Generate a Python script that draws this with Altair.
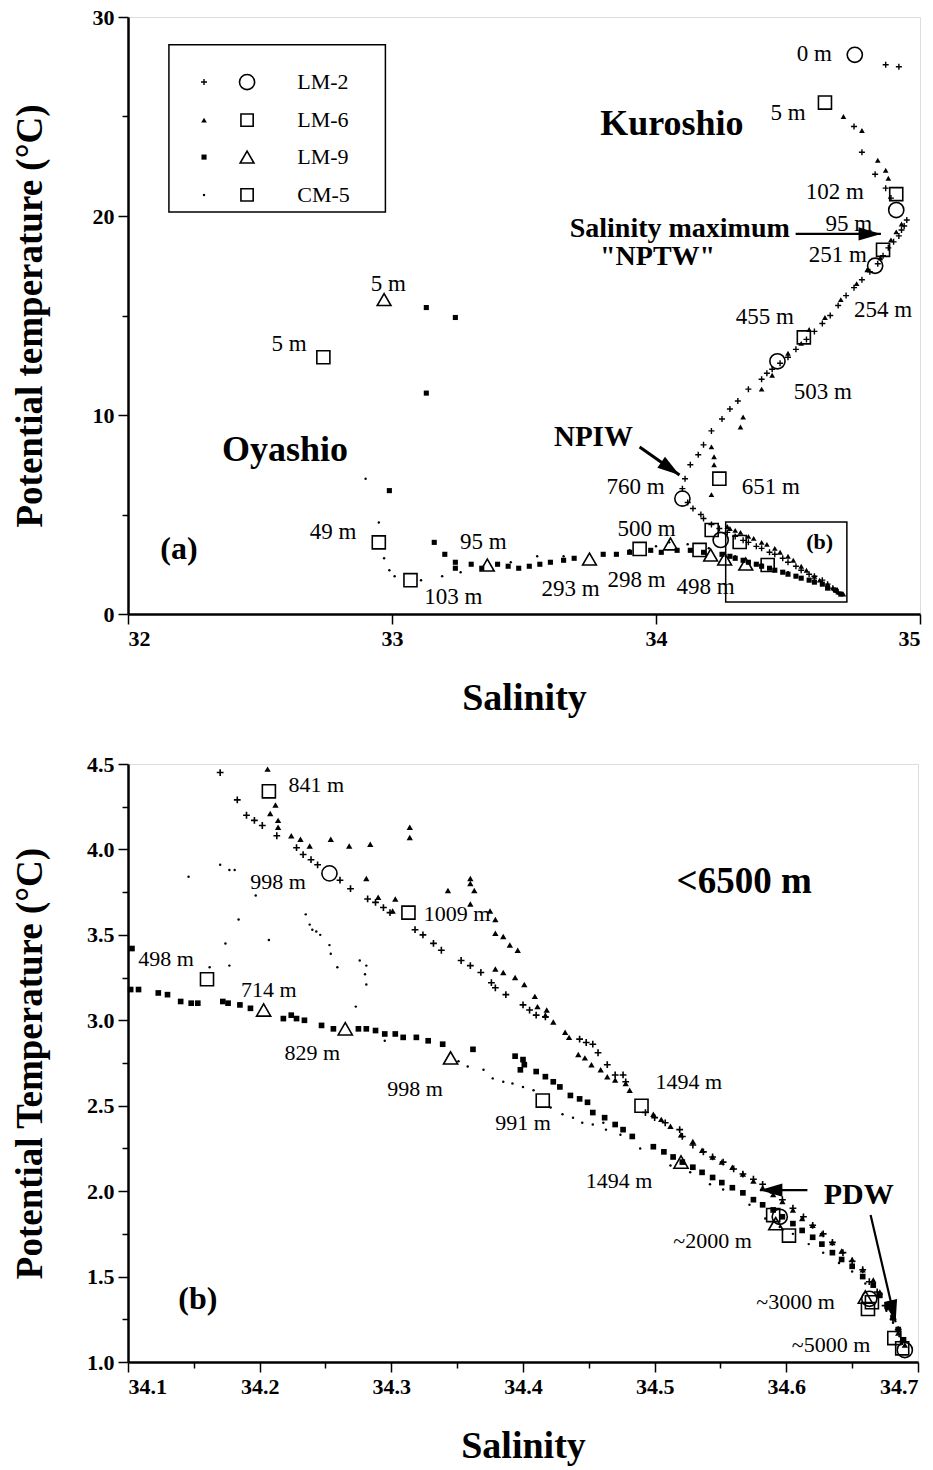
import altair as alt
import pandas as pd

SERIF = "Liberation Serif"

# ---------------- panel (a): full water column ----------------
# LM-2 profile (plus symbols)
a_lm2_sal = [34.87, 34.92, 34.75, 34.78, 34.83, 34.87, 34.89, 34.95, 34.94, 34.93, 34.92, 34.90,
             34.88, 34.86, 34.84, 34.81, 34.78, 34.75, 34.72, 34.69, 34.66, 34.63, 34.60, 34.57,
             34.53, 34.50, 34.47, 34.44, 34.42, 34.40, 34.35, 34.31, 34.28, 34.25, 34.21, 34.18,
             34.16, 34.13, 34.11, 34.10, 34.12, 34.14, 34.17, 34.18, 34.21, 34.24, 34.27, 34.30,
             34.33, 34.35, 34.38, 34.40, 34.43, 34.45, 34.48, 34.50, 34.53, 34.55, 34.58, 34.60,
             34.63, 34.65, 34.67, 34.69]
a_lm2_tem = [27.6, 27.5, 24.5, 23.2, 22.1, 21.4, 20.9, 19.8, 19.5, 19.3, 19.0, 18.7,
             18.4, 18.0, 17.6, 17.2, 16.8, 16.4, 16.0, 15.5, 15.0, 14.6, 14.2, 13.8,
             13.3, 12.9, 12.6, 12.3, 12.1, 11.8, 11.3, 10.7, 10.3, 9.8, 9.2, 8.5,
             8.0, 7.5, 6.8, 6.3, 5.6, 5.3, 5.0, 4.8, 4.5, 4.3, 4.1, 3.9,
             3.7, 3.6, 3.4, 3.3, 3.1, 3.0, 2.8, 2.6, 2.4, 2.2, 2.0, 1.9,
             1.7, 1.5, 1.3, 1.1]

# LM-6 profile (small filled triangles)
a_lm6_sal = [34.71, 34.78, 34.84, 34.87, 34.88, 34.93, 34.91, 34.89, 34.85, 34.80, 34.76, 34.70,
             34.64, 34.58, 34.55, 34.50, 34.44, 34.40, 34.33, 34.32, 34.21, 34.22, 34.22, 34.21,
             34.27, 34.28, 34.30, 34.32, 34.35, 34.37, 34.40, 34.42, 34.45, 34.47, 34.50, 34.52,
             34.55, 34.57, 34.60, 34.62, 34.65, 34.67, 34.69, 34.71]
a_lm6_tem = [25.0, 24.3, 22.8, 22.3, 21.9, 19.6, 19.2, 18.8, 17.9, 17.3, 16.6, 15.8,
             14.9, 14.3, 13.6, 13.1, 12.0, 11.3, 9.9, 9.4, 8.4, 7.9, 7.5, 6.0,
             4.4, 4.3, 4.2, 4.1, 3.9, 3.8, 3.6, 3.5, 3.3, 3.1, 2.9, 2.7,
             2.4, 2.2, 1.9, 1.7, 1.5, 1.3, 1.1, 1.0]

# LM-9 profile (small filled squares)
a_lm9_sal = [33.13, 33.24, 33.13, 32.99, 33.16, 33.20, 33.24, 33.24, 33.30, 33.34, 33.40, 33.44,
             33.48, 33.52, 33.56, 33.60, 33.65, 33.69, 33.80, 33.85, 33.90, 33.98, 34.02, 34.08,
             34.13, 34.18, 34.25, 34.28, 34.30, 34.33, 34.35, 34.38, 34.40, 34.43, 34.45, 34.48,
             34.50, 34.53, 34.55, 34.58, 34.60, 34.63, 34.65, 34.68, 34.70]
a_lm9_tem = [15.4, 14.9, 11.1, 6.2, 3.6, 3.0, 2.6, 2.3, 2.5, 2.3, 2.5, 2.4,
             2.3, 2.4, 2.5, 2.6, 2.7, 2.8, 3.0, 3.0, 3.1, 3.2, 3.1, 3.2,
             3.2, 3.1, 3.0, 2.9, 2.8, 2.7, 2.6, 2.5, 2.4, 2.3, 2.2, 2.1,
             2.0, 1.9, 1.8, 1.7, 1.6, 1.5, 1.3, 1.2, 1.0]

# CM-5 profile (small dots)
a_cm5_sal = [32.90, 32.95, 32.97, 32.99, 33.01, 33.11, 33.19, 33.26, 33.45, 33.55, 33.65, 33.80,
             33.90, 34.00, 34.05, 34.12, 34.20, 34.30, 34.40, 34.50, 34.60, 34.68]
a_cm5_tem = [6.8, 4.6, 2.8, 2.2, 1.9, 1.7, 1.9, 2.1, 2.6, 2.9, 2.9, 3.0,
             3.2, 3.4, 3.6, 3.5, 3.3, 2.9, 2.5, 2.1, 1.7, 1.1]

# Large open symbols at labelled depths
a_circ_sal = [34.753, 34.91, 34.83, 34.46, 34.10, 34.245]
a_circ_tem = [28.1, 20.3, 17.5, 12.7, 5.8, 3.72]
a_sq_sal = [34.64, 34.91, 34.86, 34.56, 34.24, 34.211, 34.317,
            32.74, 32.95, 33.07, 33.938, 34.165, 34.423]
a_sq_tem = [25.7, 21.1, 18.3, 13.9, 6.8, 4.22, 3.62,
            12.9, 3.6, 1.7, 3.27, 3.22, 2.46]
a_tri_sal = [32.97, 33.361, 33.748, 34.055, 34.207, 34.26, 34.34]
a_tri_tem = [15.8, 2.46, 2.76, 3.52, 2.96, 2.76, 2.51]

# Depth labels
a_dep_text = ["0 m", "5 m", "102 m", "95 m", "251 m", "254 m", "455 m", "503 m", "760 m",
              "651 m", "500 m", "293 m", "298 m", "498 m", "95 m", "49 m", "103 m", "5 m", "5 m"]
a_dep_sal = [34.60, 34.50, 34.677, 34.73, 34.689, 34.86, 34.412, 34.632, 33.923,
             34.435, 33.964, 33.676, 33.926, 34.188, 33.346, 32.777, 33.232, 32.61, 32.986]
a_dep_tem = [28.14, 25.2, 21.2, 19.6, 18.04, 15.3, 14.92, 11.16, 6.38,
             6.38, 4.27, 1.26, 1.71, 1.36, 3.62, 4.12, 0.85, 13.57, 16.6]

# Bold annotations
a_note_text = ["Kuroshio", "\"NPTW\"", "Oyashio", "NPIW", "(a)"]
a_note_sal = [34.06, 34.006, 32.595, 33.763, 32.193]
a_note_tem = [24.6, 17.94, 8.24, 8.89, 3.27]
a_note_size = [36, 28, 36, 29, 32]

# ---------------- panel (b): deep layer ----------------
b_lm2_sal = [34.170, 34.183, 34.190, 34.196, 34.202, 34.213, 34.228, 34.233, 34.239, 34.244,
             34.261, 34.269, 34.282, 34.288, 34.294, 34.299, 34.318, 34.324, 34.332, 34.338,
             34.353, 34.360, 34.368, 34.376, 34.379, 34.387, 34.400, 34.405, 34.410, 34.417,
             34.443, 34.448, 34.453, 34.457, 34.464, 34.470, 34.476, 34.478, 34.493, 34.500,
             34.508, 34.519, 34.521, 34.537, 34.552, 34.567, 34.582, 34.597, 34.613, 34.628,
             34.643, 34.658, 34.669, 34.681, 34.688,
             34.529, 34.544, 34.560, 34.575, 34.590, 34.605, 34.620, 34.635, 34.650, 34.663,
             34.675, 34.685]
b_lm2_tem = [4.45, 4.29, 4.20, 4.17, 4.14, 4.08, 4.01, 3.97, 3.94, 3.91,
             3.82, 3.77, 3.71, 3.69, 3.66, 3.63, 3.53, 3.50, 3.45, 3.41,
             3.35, 3.32, 3.28, 3.22, 3.19, 3.15, 3.09, 3.06, 3.03, 3.02,
             2.89, 2.87, 2.86, 2.81, 2.74, 2.68, 2.68, 2.64, 2.46, 2.43,
             2.40, 2.36, 2.32, 2.23, 2.17, 2.10, 2.04, 1.95, 1.85, 1.75,
             1.64, 1.54, 1.41, 1.25, 1.12,
             2.27, 2.20, 2.13, 2.07, 1.99, 1.90, 1.80, 1.70, 1.59, 1.47,
             1.33, 1.19]

b_lm6_sal = [34.206, 34.212, 34.208, 34.214, 34.214, 34.224, 34.231, 34.238, 34.254, 34.268,
             34.284, 34.314, 34.314, 34.281, 34.290, 34.303, 34.301, 34.343, 34.360, 34.360,
             34.363, 34.360, 34.375, 34.379, 34.379, 34.385, 34.390, 34.396, 34.379, 34.385,
             34.394, 34.401, 34.409, 34.411, 34.418, 34.417, 34.423, 34.432, 34.435, 34.442,
             34.447, 34.452, 34.459, 34.464, 34.470, 34.478, 34.481, 34.499, 34.512, 34.529,
             34.544, 34.559, 34.575, 34.590, 34.605, 34.620, 34.635, 34.650, 34.666, 34.677,
             34.685,
             34.505, 34.520, 34.536, 34.551, 34.567, 34.582, 34.597, 34.612, 34.627, 34.642,
             34.658, 34.671, 34.681, 34.690]
b_lm6_tem = [4.47, 4.26, 4.21, 4.17, 4.13, 4.08, 4.06, 4.02, 4.06, 4.02,
             4.03, 4.13, 4.07, 3.83, 3.72, 3.71, 3.64, 3.76, 3.83, 3.80,
             3.76, 3.68, 3.64, 3.59, 3.51, 3.49, 3.44, 3.41, 3.30, 3.28,
             3.25, 3.21, 3.14, 3.08, 3.06, 3.03, 2.99, 2.93, 2.90, 2.80,
             2.78, 2.74, 2.71, 2.67, 2.65, 2.63, 2.59, 2.45, 2.38, 2.29,
             2.20, 2.14, 2.06, 1.98, 1.89, 1.80, 1.70, 1.60, 1.48, 1.34,
             1.17,
             2.42, 2.33, 2.24, 2.17, 2.10, 2.02, 1.94, 1.84, 1.75, 1.65,
             1.54, 1.41, 1.26, 1.10]

b_lm9_sal = [34.103, 34.102, 34.108, 34.123, 34.130, 34.140, 34.148, 34.153, 34.172, 34.176,
             34.185, 34.193, 34.218, 34.224, 34.228, 34.234, 34.247, 34.256, 34.275, 34.281,
             34.288, 34.295, 34.303, 34.309, 34.319, 34.328, 34.339, 34.362, 34.394, 34.400,
             34.401, 34.398, 34.410, 34.417, 34.423, 34.428, 34.436, 34.443, 34.449, 34.453,
             34.462, 34.470, 34.476, 34.483, 34.499, 34.514, 34.529, 34.544, 34.559, 34.575,
             34.590, 34.605, 34.620, 34.635, 34.650, 34.666, 34.677, 34.685,
             34.507, 34.521, 34.536, 34.551, 34.567, 34.582, 34.597, 34.612, 34.627, 34.642,
             34.658, 34.671, 34.681, 34.689]
b_lm9_tem = [3.42, 3.18, 3.18, 3.16, 3.15, 3.11, 3.10, 3.10, 3.11, 3.10,
             3.09, 3.07, 3.01, 3.03, 3.01, 3.00, 2.97, 2.95, 2.95, 2.95,
             2.94, 2.92, 2.92, 2.90, 2.90, 2.88, 2.86, 2.83, 2.79, 2.77,
             2.74, 2.71, 2.70, 2.67, 2.64, 2.61, 2.56, 2.54, 2.52, 2.46,
             2.43, 2.39, 2.36, 2.32, 2.26, 2.20, 2.14, 2.08, 2.02, 1.95,
             1.89, 1.81, 1.73, 1.64, 1.56, 1.45, 1.32, 1.19,
             2.23, 2.17, 2.11, 2.05, 1.99, 1.92, 1.85, 1.77, 1.69, 1.60,
             1.50, 1.39, 1.26, 1.13]

b_cm5_sal = [34.146, 34.170, 34.177, 34.181, 34.197, 34.184, 34.174, 34.177, 34.207, 34.162,
             34.235, 34.238, 34.240, 34.243, 34.246, 34.253, 34.254, 34.259, 34.276, 34.281,
             34.280, 34.281, 34.273, 34.295, 34.351, 34.358, 34.370, 34.377, 34.385, 34.392,
             34.400, 34.408, 34.421, 34.430, 34.438, 34.445, 34.453, 34.461, 34.463, 34.474,
             34.489, 34.512, 34.527, 34.542, 34.552, 34.572, 34.584, 34.605, 34.628, 34.650,
             34.669, 34.681,
             34.595, 34.617, 34.640, 34.660, 34.676, 34.686]
b_cm5_tem = [3.84, 3.91, 3.88, 3.88, 3.73, 3.59, 3.45, 3.32, 3.47, 3.31,
             3.62, 3.56, 3.53, 3.52, 3.50, 3.44, 3.39, 3.31, 3.35, 3.32,
             3.27, 3.21, 3.08, 2.88, 2.76, 2.73, 2.71, 2.66, 2.64, 2.63,
             2.61, 2.59, 2.49, 2.45, 2.43, 2.40, 2.39, 2.40, 2.36, 2.33,
             2.25, 2.15, 2.11, 2.04, 2.01, 1.92, 1.84, 1.75, 1.64, 1.53,
             1.38, 1.23,
             1.79, 1.69, 1.58, 1.46, 1.30, 1.15]

b_circ_sal = [34.253, 34.595, 34.663, 34.690]
b_circ_tem = [3.86, 1.85, 1.37, 1.07]
b_sq_sal = [34.207, 34.313, 34.490, 34.590, 34.665, 34.682,
            34.160, 34.415, 34.602, 34.662, 34.688]
b_sq_tem = [4.34, 3.63, 2.50, 1.86, 1.35, 1.14,
            3.24, 2.53, 1.74, 1.31, 1.08]
b_tri_sal = [34.203, 34.265, 34.345, 34.520, 34.592, 34.660]
b_tri_tem = [3.06, 2.95, 2.78, 2.17, 1.81, 1.38]

b_dep_text = ["841 m", "998 m", "1009 m", "498 m", "714 m", "829 m", "998 m", "991 m",
              "1494 m", "1494 m", "~2000 m", "~3000 m", "~5000 m"]
b_dep_sal = [34.243, 34.214, 34.350, 34.129, 34.207, 34.240, 34.318, 34.400,
             34.526, 34.473, 34.544, 34.607, 34.634]
b_dep_tem = [4.38, 3.81, 3.62, 3.36, 3.18, 2.81, 2.60, 2.40,
             2.64, 2.06, 1.71, 1.35, 1.10]

b_note_text = ["<6500 m", "PDW", "(b)"]
b_note_sal = [34.568, 34.655, 34.153]
b_note_tem = [3.81, 1.98, 1.37]
b_note_size = [37, 30, 32]

legend_names = ["LM-2", "LM-6", "LM-9", "CM-5"]
legend_tem = [26.73, 24.82, 22.96, 21.06]

PLUS = "M-1,0L1,0M0,-1L0,1"
HEAD = "M0,0L-2,-0.6L-2,0.6Z"


def df(s, t, **extra):
    d = {"s": s, "t": t}
    d.update(extra)
    return pd.DataFrame(d)


def axis_common():
    return dict(domainColor="black", domainWidth=2.5, tickColor="black", tickWidth=1.5,
                labelFont=SERIF, labelFontWeight="bold", labelFontSize=22, labelColor="black",
                titleFont=SERIF, titleFontWeight="bold", titleColor="black", grid=False,
                labelPadding=4)


def panel(xdom, ydom, xvals, yvals, xmajor, ymajor, xfmt, yfmt, ytitle, w, h):
    xs = alt.Scale(domain=xdom, nice=False, zero=False)
    ys = alt.Scale(domain=ydom, nice=False, zero=False)
    xa = alt.Axis(values=xvals, format=xfmt, labelExpr=f"{xmajor} ? datum.label : ''",
                  tickSize={"condition": {"test": xmajor, "value": 10}, "value": 6},
                  title="Salinity", titleFontSize=38, titlePadding=30, **axis_common())
    ya = alt.Axis(values=yvals, format=yfmt, labelExpr=f"{ymajor} ? datum.label : ''",
                  tickSize={"condition": {"test": ymajor, "value": 10}, "value": 6},
                  title=ytitle, titleFontSize=37, titleX=-98, titleY=h / 2,
                  titleBaseline="middle", titleAngle=270, **axis_common())
    X = alt.X("s:Q", scale=xs, axis=xa)
    Y = alt.Y("t:Q", scale=ys, axis=ya)
    return X, Y


def small(data, X, Y, shape, size, filled=True, sw=1.0):
    if filled:
        m = alt.Chart(data).mark_point(shape=shape, size=size, filled=True, color="black",
                                       opacity=1)
    else:
        m = alt.Chart(data).mark_point(shape=shape, size=size, filled=False, color="black",
                                       strokeWidth=sw, opacity=1)
    return m.encode(x=X, y=Y)


def big(data, X, Y, shape, size):
    return alt.Chart(data).mark_point(shape=shape, size=size, filled=False, color="black",
                                      strokeWidth=1.6, opacity=1).encode(x=X, y=Y)


def labels(data, X, Y, size, weight="normal"):
    return alt.Chart(data).mark_text(font=SERIF, fontSize=size, fontWeight=weight,
                                     color="black").encode(x=X, y=Y, text="label:N")


def arrow(X, Y, s0, t0, s1, t1, ang, head_size, width=2.2):
    line = alt.Chart(df([s0], [t0], s2=[s1], t2=[t1])).mark_rule(
        color="black", strokeWidth=width).encode(x=X, y=Y, x2="s2:Q", y2="t2:Q")
    head = alt.Chart(df([s1], [t1])).mark_point(
        shape=HEAD, size=head_size, filled=True, color="black", opacity=1,
        angle=ang).encode(x=X, y=Y)
    return [line, head]


# ---------- build panel (a) ----------
AX, AY = panel([32, 35], [0, 30], [32, 32.5, 33, 33.5, 34, 34.5, 35],
               [0, 5, 10, 15, 20, 25, 30],
               "datum.value % 1 == 0", "datum.value % 10 == 0", "d", "d",
               "Potential temperature (°C)", 792, 597)

a_layers = [
    small(df(a_cm5_sal, a_cm5_tem), AX, AY, "circle", 6),
    small(df(a_lm9_sal, a_lm9_tem), AX, AY, "square", 26),
    small(df(a_lm6_sal, a_lm6_tem), AX, AY, "triangle-up", 32),
    small(df(a_lm2_sal, a_lm2_tem), AX, AY, PLUS, 36, filled=False, sw=1.4),
    big(df(a_circ_sal, a_circ_tem), AX, AY, "circle", 230),
    big(df(a_sq_sal, a_sq_tem), AX, AY, "square", 170),
    big(df(a_tri_sal, a_tri_tem), AX, AY, "triangle-up", 190),
    labels(df(a_dep_sal, a_dep_tem, label=a_dep_text), AX, AY, 23),
]
for txt, s, t, sz in zip(a_note_text, a_note_sal, a_note_tem, a_note_size):
    a_layers.append(alt.Chart(df([s], [t], label=[txt])).mark_text(
        font=SERIF, fontSize=sz, fontWeight="bold", color="black").encode(
        x=AX, y=AY, text="label:N"))
a_layers.append(alt.Chart(df([34.507], [19.35], label=["Salinity maximum"])).mark_text(
    font=SERIF, fontSize=28, fontWeight="bold", color="black", align="right").encode(
    x=AX, y=AY, text="label:N"))
a_layers.append(alt.Chart(df([34.62], [3.62], label=["(b)"])).mark_text(
    font=SERIF, fontSize=22, fontWeight="bold", color="black").encode(
    x=AX, y=AY, text="label:N"))
a_layers += arrow(AX, AY, 34.529, 19.1, 34.852, 19.1, 0, 500)
a_layers += arrow(AX, AY, 33.938, 8.39, 34.089, 6.98, 35, 500, width=3)
# outline of the region enlarged in panel (b)
a_layers.append(alt.Chart(df([34.264], [0.6], s2=[34.723], t2=[4.62])).mark_rect(
    fillOpacity=0, stroke="black", strokeWidth=1.5).encode(x=AX, y=AY, x2="s2:Q", y2="t2:Q"))
# station key
a_layers.append(alt.Chart(df([32.155], [20.2], s2=[32.975], t2=[28.6])).mark_rect(
    fillOpacity=0, stroke="black", strokeWidth=1.5).encode(x=AX, y=AY, x2="s2:Q", y2="t2:Q"))
key_small = [(PLUS, 36, False), ("triangle-up", 32, True), ("square", 26, True), ("circle", 6, True)]
key_big = [("circle", 230), ("square", 150), ("triangle-up", 190), ("square", 150)]
for (shp, sz, fl), (bshp, bsz), t in zip(key_small, key_big, legend_tem):
    a_layers.append(small(df([32.288], [t]), AX, AY, shp, sz, filled=fl, sw=1.4))
    a_layers.append(big(df([32.451], [t]), AX, AY, bshp, bsz))
a_layers.append(alt.Chart(df([32.641] * 4, legend_tem, label=legend_names)).mark_text(
    font=SERIF, fontSize=22, color="black", align="left").encode(x=AX, y=AY, text="label:N"))

top = alt.layer(*a_layers).properties(width=792, height=597)

# ---------- build panel (b) ----------
BX, BY = panel([34.1, 34.7], [1.0, 4.5],
               [34.1, 34.15, 34.2, 34.25, 34.3, 34.35, 34.4, 34.45, 34.5, 34.55, 34.6, 34.65, 34.7],
               [1.0, 1.25, 1.5, 1.75, 2.0, 2.25, 2.5, 2.75, 3.0, 3.25, 3.5, 3.75, 4.0, 4.25, 4.5],
               "abs(datum.value * 10 - round(datum.value * 10)) < 0.01",
               "abs(datum.value * 2 - round(datum.value * 2)) < 0.01", ".1f", ".1f",
               "Potential Temperature (°C)", 790, 598)

b_layers = [
    small(df(b_cm5_sal, b_cm5_tem), BX, BY, "circle", 6),
    small(df(b_lm9_sal, b_lm9_tem), BX, BY, "square", 32),
    small(df(b_lm6_sal, b_lm6_tem), BX, BY, "triangle-up", 40),
    small(df(b_lm2_sal, b_lm2_tem), BX, BY, PLUS, 46, filled=False, sw=1.6),
    big(df(b_circ_sal, b_circ_tem), BX, BY, "circle", 230),
    big(df(b_sq_sal, b_sq_tem), BX, BY, "square", 170),
    big(df(b_tri_sal, b_tri_tem), BX, BY, "triangle-up", 200),
    labels(df(b_dep_sal, b_dep_tem, label=b_dep_text), BX, BY, 22),
]
for txt, s, t, sz in zip(b_note_text, b_note_sal, b_note_tem, b_note_size):
    b_layers.append(alt.Chart(df([s], [t], label=[txt])).mark_text(
        font=SERIF, fontSize=sz, fontWeight="bold", color="black").encode(
        x=BX, y=BY, text="label:N"))
b_layers += arrow(BX, BY, 34.616, 2.006, 34.580, 2.006, 180, 500)
b_layers += arrow(BX, BY, 34.664, 1.86, 34.683, 1.233, 76.8, 500)

bottom = alt.layer(*b_layers).properties(width=790, height=598)

chart = alt.vconcat(top, bottom, spacing=150, bounds="flush").properties(
    padding={"left": 10, "top": 5, "right": 5, "bottom": 5}
).configure_view(stroke="black", strokeWidth=1.5).configure(background="white")

chart.save("out.html", embed_options={"renderer": "svg", "actions": False})
